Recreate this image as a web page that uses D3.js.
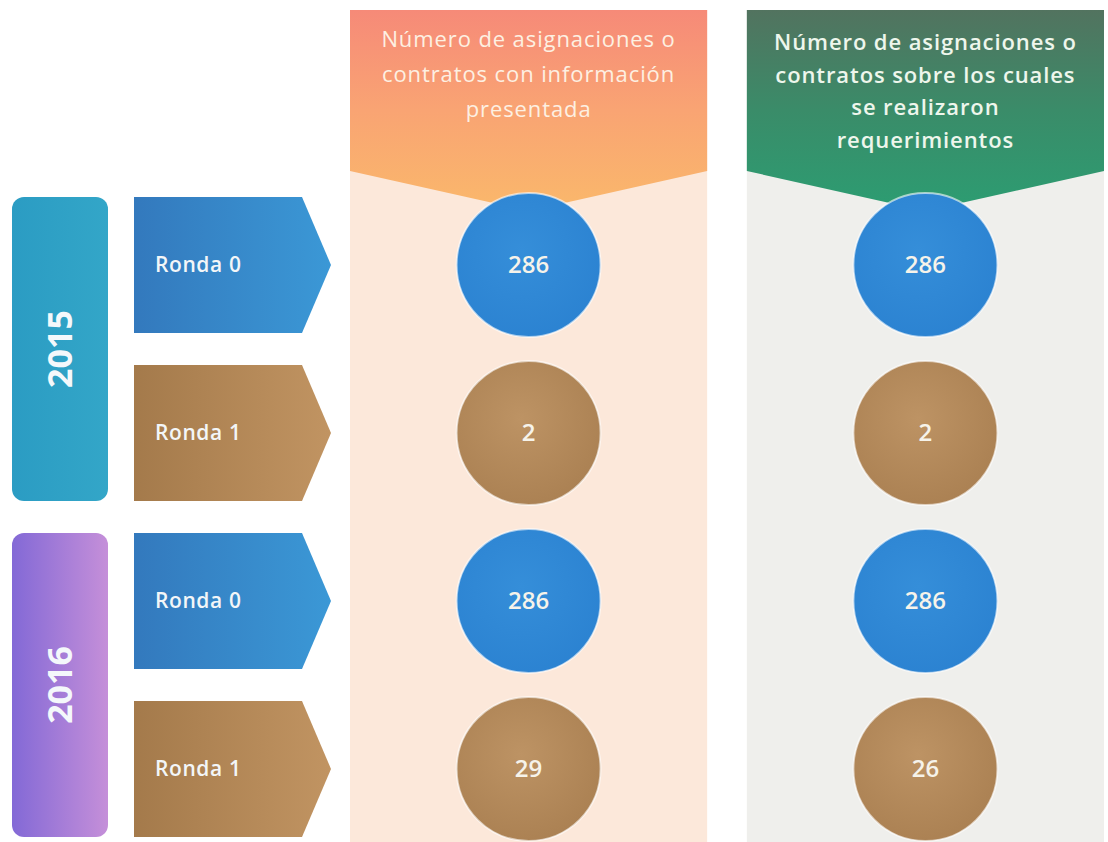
<!DOCTYPE html>
<html>
<head>
<meta charset="utf-8">
<script src="https://cdn.jsdelivr.net/npm/d3@7"></script>
<style>
  body { margin: 0; background: #fff; }
  svg { display: block; font-family: "Open Sans", "DejaVu Sans", sans-serif; }
</style>
</head>
<body>
<div class="container"></div>
<script>
const width = 1108,
    height = 842;

// data
const years = ["2015", "2016"];
const rounds = ["Ronda 0", "Ronda 1"];
const columns = ["presentada", "requerimientos"];
const headerLines = [
  ["Número de asignaciones o", "contratos con información", "presentada"],
  ["Número de asignaciones o", "contratos sobre los cuales", "se realizaron", "requerimientos"]
];
const presentada = [286, 2, 286, 29];
const requerimientos = [286, 2, 286, 26];

const rows = [];
years.forEach(y => rounds.forEach(r => rows.push({ year: y, round: r, key: y + "|" + r })));
rows.forEach((d, i) => { d.values = [presentada[i], requerimientos[i]]; });

const svg = d3.select(".container")
  .append("svg")
  .attr("width", width)
  .attr("height", height);

const defs = svg.append("defs");

const linear = (id, stops, horiz) => {
  const g = defs.append("linearGradient").attr("id", id)
    .attr("x1", 0).attr("y1", 0)
    .attr("x2", horiz ? 1 : 0).attr("y2", horiz ? 0 : 1);
  stops.forEach((c, i) => g.append("stop")
    .attr("offset", i / (stops.length - 1)).attr("stop-color", c));
};
const radial = (id, inner, outer) => {
  const g = defs.append("radialGradient").attr("id", id)
    .attr("cx", "45%").attr("cy", "40%").attr("r", "65%");
  g.append("stop").attr("offset", 0).attr("stop-color", inner);
  g.append("stop").attr("offset", 1).attr("stop-color", outer);
};

linear("hdr0", ["#f68a78", "#f9a473", "#fab86b"], false);
linear("hdr1", ["#52735f", "#3a8c69", "#2c9d72"], false);
linear("yr2015", ["#2b9cc3", "#33a6c8"], true);
linear("yr2016", ["#8369d6", "#c58fd9"], true);
linear("arr0", ["#3379bd", "#3b98d6"], true);
linear("arr1", ["#a47a4b", "#c19462"], true);
radial("cir0", "#358ed9", "#2b82d1");
radial("cir1", "#bd9364", "#aa8052");

// scales
const y = d3.scaleBand()
  .domain(rows.map(d => d.key))
  .range([197, 837])
  .paddingInner(0.19);

const x = d3.scaleBand()
  .domain(columns)
  .range([350, 1104])
  .paddingInner(0.1);

const colBg = ["#fce8da", "#efefec"];
const hdrTop = 10, hdrEdge = 171, hdrTip = 211;

// column backgrounds
svg.selectAll("rect.colbg")
  .data(columns)
  .enter()
  .append("rect")
  .attr("class", "colbg")
  .attr("x", d => x(d))
  .attr("y", hdrTop)
  .attr("width", x.bandwidth())
  .attr("height", height - hdrTop)
  .attr("fill", (d, i) => colBg[i]);

// headers (banner with V bottom)
const hdr = svg.selectAll("g.hdr")
  .data(columns)
  .enter()
  .append("g")
  .attr("class", "hdr");

hdr.append("path")
  .attr("d", d => {
    const x0 = x(d), x1 = x(d) + x.bandwidth(), cx = x0 + x.bandwidth() / 2;
    return `M${x0},${hdrTop}H${x1}V${hdrEdge}L${cx},${hdrTip}L${x0},${hdrEdge}Z`;
  })
  .attr("fill", (d, i) => `url(#hdr${i})`);

const firstBase = [47, 50], lineGap = [35, 32.5];
hdr.each(function (d, i) {
  const cx = x(d) + x.bandwidth() / 2;
  const t = d3.select(this).append("text")
    .attr("text-anchor", "middle")
    .attr("fill", i === 0 ? "#fdf0e2" : "#eef6ec")
    .attr("font-size", 22)
    .attr("letter-spacing", 0.9)
    .attr("font-weight", i === 0 ? 500 : 600);
  headerLines[i].forEach((line, j) => {
    t.append("tspan")
      .attr("x", cx)
      .attr("y", firstBase[i] + j * lineGap[i])
      .text(line);
  });
});

// year boxes
const yearG = svg.selectAll("g.year")
  .data(years)
  .enter()
  .append("g")
  .attr("class", "year");

yearG.append("rect")
  .attr("x", 12)
  .attr("y", d => y(d + "|" + rounds[0]))
  .attr("width", 96)
  .attr("height", d => y(d + "|" + rounds[1]) + y.bandwidth() - y(d + "|" + rounds[0]))
  .attr("rx", 12)
  .attr("fill", d => `url(#yr${d})`);

yearG.append("text")
  .attr("transform", d => {
    const cy = (y(d + "|" + rounds[0]) + y(d + "|" + rounds[1]) + y.bandwidth()) / 2;
    return `translate(72,${cy}) rotate(-90)`;
  })
  .attr("text-anchor", "middle")
  .attr("fill", "#f4f8fb")
  .attr("font-size", 34)
  .attr("font-weight", 700)
  .text(d => d);

// round arrows
const arrowX0 = 134, arrowX1 = 302, arrowTip = 331;
const arr = svg.selectAll("g.arr")
  .data(rows)
  .enter()
  .append("g")
  .attr("class", "arr");

arr.append("path")
  .attr("d", d => {
    const t = y(d.key), b = t + y.bandwidth(), m = t + y.bandwidth() / 2;
    return `M${arrowX0},${t}H${arrowX1}L${arrowTip},${m}L${arrowX1},${b}H${arrowX0}Z`;
  })
  .attr("fill", d => `url(#arr${rounds.indexOf(d.round)})`);

arr.append("text")
  .attr("x", 155)
  .attr("y", d => y(d.key) + y.bandwidth() / 2)
  .attr("dy", "0.35em")
  .attr("fill", "#f3f6f8")
  .attr("font-size", 21)
  .attr("letter-spacing", 0.6)
  .attr("font-weight", 600)
  .text(d => d.round);

// circles
const r = 72;
columns.forEach((c, ci) => {
  const g = svg.append("g").attr("class", "circles-" + c);
  const cx = x(c) + x.bandwidth() / 2;
  const cells = g.selectAll("g")
    .data(rows)
    .enter()
    .append("g");
  cells.append("circle")
    .attr("cx", cx)
    .attr("cy", d => y(d.key) + y.bandwidth() / 2)
    .attr("r", r)
    .attr("fill", d => `url(#cir${rounds.indexOf(d.round)})`)
    .attr("stroke", "#ffffff")
    .attr("stroke-opacity", 0.6)
    .attr("stroke-width", 2);
  cells.append("text")
    .attr("x", cx)
    .attr("y", d => y(d.key) + y.bandwidth() / 2)
    .attr("dy", "0.35em")
    .attr("text-anchor", "middle")
    .attr("fill", "#f6f3ea")
    .attr("font-size", 24)
    .attr("font-weight", 600)
    .text(d => d.values[ci]);
});
</script>
</body>
</html>
